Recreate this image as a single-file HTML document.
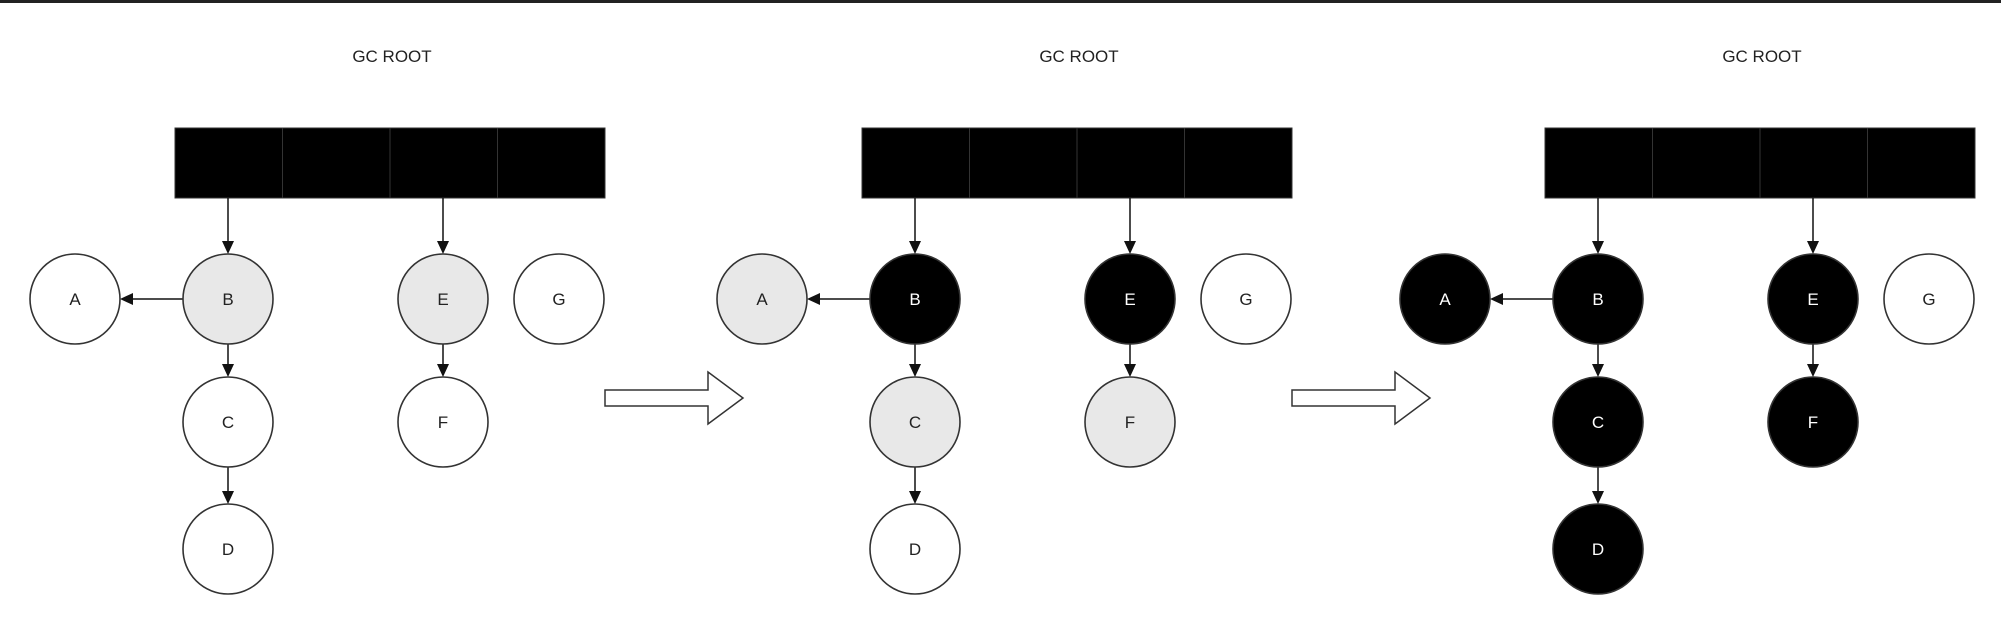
<!DOCTYPE html>
<html><head><meta charset="utf-8"><style>
html,body{margin:0;padding:0;background:#fff;}
svg{display:block;}
text{font-family:"Liberation Sans",sans-serif;}
</style></head><body>
<svg id="chart" width="2001" height="624" viewBox="0 0 2001 624">
<rect x="0" y="0" width="2001" height="3" fill="#222"/>
</svg>
<script>
const panelOffsets = [0, 687, 1370];
const panelTitles = ["GC ROOT", "GC ROOT", "GC ROOT"];
const nodeNames = ["A","B","C","D","E","F","G"];
const nodeCols = [75, 228, 228, 228, 443, 443, 559];
const nodeRows = [299, 299, 422, 549, 299, 422, 299];
// 0 = white, 1 = gray, 2 = black
const nodeStates = [
  [0,1,0,0,1,0,0],
  [1,2,1,0,2,1,0],
  [2,2,2,2,2,2,0]
];
const edges = [["B","A"],["B","C"],["C","D"],["E","F"]];
const rootEdges = ["B","E"];
const R = 45;
const svg = document.getElementById('chart');
const NS = 'http://www.w3.org/2000/svg';
function mk(tag, attrs){const e=document.createElementNS(NS,tag);for(const k in attrs)e.setAttribute(k,attrs[k]);svg.appendChild(e);return e;}
function arrowHead(x,y,dir){
  let p;
  if(dir==='down') p=`${x},${y} ${x-6},${y-13} ${x+6},${y-13}`;
  else p=`${x},${y} ${x+13},${y-6} ${x+13},${y+6}`;
  return mk('polygon',{points:p,fill:'#111'});
}
panelOffsets.forEach((ox,pi)=>{
  const t=mk('text',{x:ox+392,y:62,'text-anchor':'middle','font-size':17,fill:'#222'});
  t.textContent=panelTitles[pi];
  
  
  for(let c=0;c<4;c++){
    const r=mk('rect',{x:ox+175+c*107.5,y:128,width:107.5,height:70,fill:'#000',stroke:'#333','stroke-width':1});
    
    
  }
  rootEdges.forEach(n=>{
    const i=nodeNames.indexOf(n);const x=ox+nodeCols[i];const y2=nodeRows[i]-R;
    const l=mk('line',{x1:x,y1:198,x2:x,y2:y2-10,stroke:'#111','stroke-width':1.5});
    
    
    arrowHead(x,y2,'down');
  });
  edges.forEach(([a,b])=>{
    const i=nodeNames.indexOf(a), j=nodeNames.indexOf(b);
    const x1=ox+nodeCols[i],y1=nodeRows[i],x2=ox+nodeCols[j],y2=nodeRows[j];
    let l;
    if(y1===y2){
      l=mk('line',{x1:x1-R,y1:y1,x2:x2+R+10,y2:y2,stroke:'#111','stroke-width':1.5});
      arrowHead(x2+R,y2,'left');
    } else {
      l=mk('line',{x1:x1,y1:y1+R,x2:x2,y2:y2-R-10,stroke:'#111','stroke-width':1.5});
      arrowHead(x2,y2-R,'down');
    }
    
    
  });
  nodeNames.forEach((n,i)=>{
    const s=nodeStates[pi][i];
    const fill=s===2?'#000':(s===1?'#e8e8e8':'#fff');
    const c=mk('circle',{cx:ox+nodeCols[i],cy:nodeRows[i],r:R,fill:fill,stroke:'#333','stroke-width':1.6});
    
    
    const t=mk('text',{x:ox+nodeCols[i],y:nodeRows[i]+6,'text-anchor':'middle','font-size':17,fill:s===2?'#fff':'#222'});
    t.textContent=n;
    
    
  });
});
[605, 1292].forEach(x=>{
  const p=mk('polygon',{points:`${x},390 ${x+103},390 ${x+103},372 ${x+138},398 ${x+103},424 ${x+103},406 ${x},406`,fill:'#fff',stroke:'#333','stroke-width':1.5});
  
  
});
</script>
</body></html>
